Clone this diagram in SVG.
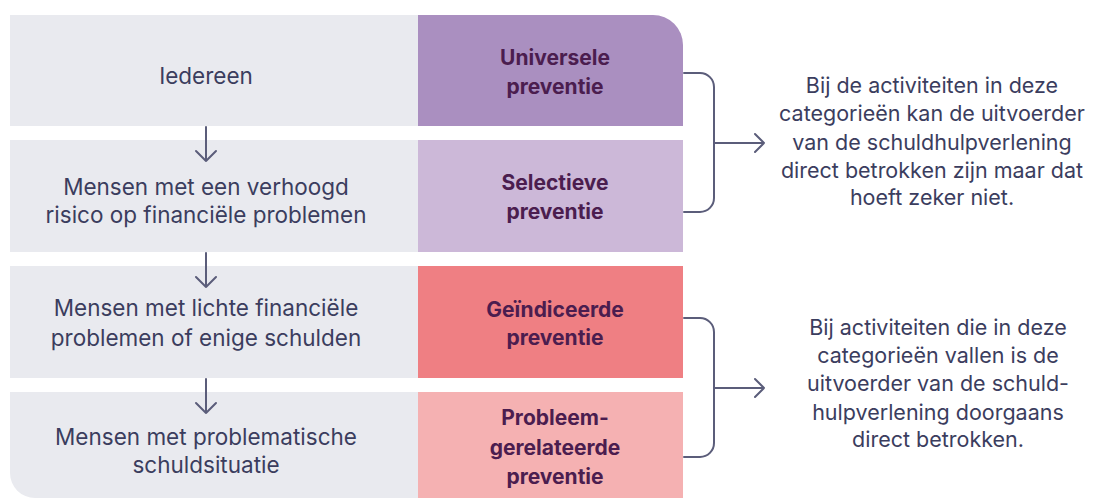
<svg xmlns="http://www.w3.org/2000/svg" width="1103" height="498" viewBox="0 0 1103 498">
<style>
.cell{fill:#E9EAEF}
.t{font-family:Inter,"Liberation Sans",sans-serif;font-size:22.5px;fill:#3B3D5E;text-anchor:middle}
.r{font-family:Inter,"Liberation Sans",sans-serif;font-size:21.5px;fill:#3B3D5E;text-anchor:middle}
.b{font-family:Inter,"Liberation Sans",sans-serif;font-size:21px;font-weight:700;fill:#4B1D4F;text-anchor:middle}
.ln{fill:none;stroke:#5B5D7A;stroke-width:2;stroke-linecap:round;stroke-linejoin:round}
</style>
<rect width="1103" height="498" fill="#FFFFFF"/>
<g id="row1">
<rect class="cell" x="10" y="15" width="408" height="111"/>
<path d="M418 15 H653 A30 30 0 0 1 683 45 V126 H418 Z" fill="#AA8FC0"/>
<text class="t" x="206" y="84">Iedereen</text>
<text class="b" x="555" y="65">Universele</text>
<text class="b" x="555" y="94">preventie</text>
</g>
<g id="row2">
<rect class="cell" x="10" y="140" width="408" height="112"/>
<rect x="418" y="140" width="265" height="112" fill="#CCB8D8"/>
<text class="t" x="206" y="195">Mensen met een verhoogd</text>
<text class="t" x="206" y="223">risico op financiële problemen</text>
<text class="b" x="555" y="190">Selectieve</text>
<text class="b" x="555" y="219">preventie</text>
</g>
<g id="row3">
<rect class="cell" x="10" y="266" width="408" height="112"/>
<rect x="418" y="266" width="265" height="112" fill="#EF7F83"/>
<text class="t" x="206" y="316">Mensen met lichte financiële</text>
<text class="t" x="206" y="346">problemen of enige schulden</text>
<text class="b" x="555" y="317">Geïndiceerde</text>
<text class="b" x="555" y="345">preventie</text>
</g>
<g id="row4">
<path d="M10 392 H418 V498 H35 A25 25 0 0 1 10 473 Z" fill="#E9EAEF"/>
<rect x="418" y="392" width="265" height="106" fill="#F5B1B2"/>
<text class="t" x="206" y="445">Mensen met problematische</text>
<text class="t" x="206" y="473">schuldsituatie</text>
<text class="b" x="555" y="425">Probleem-</text>
<text class="b" x="555" y="455">gerelateerde</text>
<text class="b" x="555" y="484">preventie</text>
</g>
<g id="note-top">
<text class="r" x="932" y="93">Bij de activiteiten in deze</text>
<text class="r" x="932" y="121">categorieën kan de uitvoerder</text>
<text class="r" x="932" y="150">van de schuldhulpverlening</text>
<text class="r" x="932" y="178">direct betrokken zijn maar dat</text>
<text class="r" x="932" y="205">hoeft zeker niet.</text>
</g>
<g id="note-bottom">
<text class="r" x="938" y="335">Bij activiteiten die in deze</text>
<text class="r" x="938" y="363">categorieën vallen is de</text>
<text class="r" x="938" y="391">uitvoerder van de schuld-</text>
<text class="r" x="938" y="420">hulpverlening doorgaans</text>
<text class="r" x="938" y="447">direct betrokken.</text>
</g>
<g id="connectors">
<path class="ln" d="M206 127 V161 M196 151 L206 161 L216 151"/>
<path class="ln" d="M206 253 V287 M196 277 L206 287 L216 277"/>
<path class="ln" d="M206 379 V413 M196 403 L206 413 L216 403"/>
<path class="ln" d="M684 73 H700 A14 14 0 0 1 714 87 V198 A14 14 0 0 1 700 212 H684"/>
<path class="ln" d="M714 143 H764 M755 134 L764 143 L755 152"/>
<path class="ln" d="M684 318 H700 A14 14 0 0 1 714 332 V443 A14 14 0 0 1 700 457 H684"/>
<path class="ln" d="M714 388 H764 M755 379 L764 388 L755 397"/>
</g>
</svg>
